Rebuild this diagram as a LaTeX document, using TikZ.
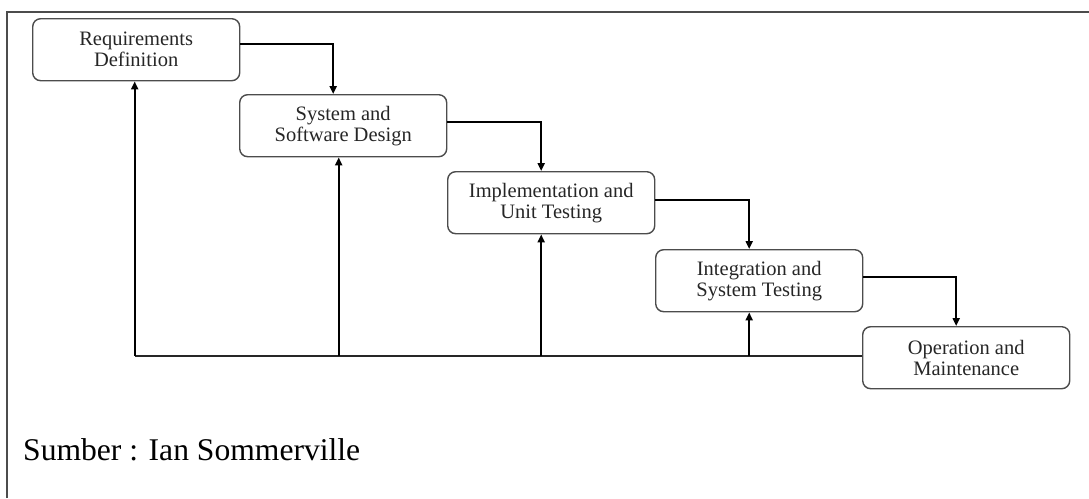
\documentclass[tikz,border=0pt]{standalone}
\usepackage{fontspec}
\setmainfont{Liberation Serif}
\usetikzlibrary{arrows.meta}
\begin{document}
\begin{tikzpicture}[x=1pt,y=-1pt,
  phase/.style={draw=black!70, line width=1.4pt, rounded corners=8pt,
    minimum width=207pt, minimum height=62pt, inner sep=0pt, align=center,
    font=\fontsize{20.5}{21}\selectfont, text=black!85, anchor=north west},
  flow/.style={draw=black, line width=2.1pt, -{Triangle[length=8pt,width=7pt]}},
  baseline/.style={draw=black!85, line width=2.1pt},
  frame/.style={draw=black!70, line width=1.6pt}]
\useasboundingbox (0,0) rectangle (1089,498);
\draw[frame] (7,498) -- (7,12) -- (1089,12);

\node[phase] (req) at (32,18)  {Requirements\\Definition};
\node[phase] (sys) at (239,94) {System and\\Software Design};
\node[phase] (imp) at (447,171) {Implementation and\\Unit Testing};
\node[phase] (int) at (655,249) {Integration and\\System Testing};
\node[phase] (op)  at (862,326) {Operation and\\Maintenance};

% forward flow
\draw[flow] ([yshift=6pt]req.east) -| ([xshift=-10pt]sys.north);
\draw[flow] ([yshift=4pt]sys.east) -| ([xshift=-10pt]imp.north);
\draw[flow] ([yshift=3pt]imp.east) -| ([xshift=-10pt]int.north);
\draw[flow] ([yshift=4pt]int.east) -| ([xshift=-10pt]op.north);

% feedback
\coordinate (r1) at ([xshift=-1.5pt]req.south);
\coordinate (r2) at ([xshift=-4.5pt]sys.south);
\coordinate (r3) at ([xshift=-10pt]imp.south);
\coordinate (r4) at ([xshift=-10pt]int.south);
\coordinate (base) at ([yshift=2pt]op.west);
\draw[baseline] (base) -- (base -| r1);
\draw[flow] (base -| r1) -- (r1);
\draw[flow] (base -| r2) -- (r2);
\draw[flow] (base -| r3) -- (r3);
\draw[flow] (base -| r4) -- (r4);

\node[anchor=base west, inner sep=0pt, font=\fontsize{31.6}{36}\selectfont] (src) at (23,460) {Sumber : Ian Sommerville};
\end{tikzpicture}
\end{document}
